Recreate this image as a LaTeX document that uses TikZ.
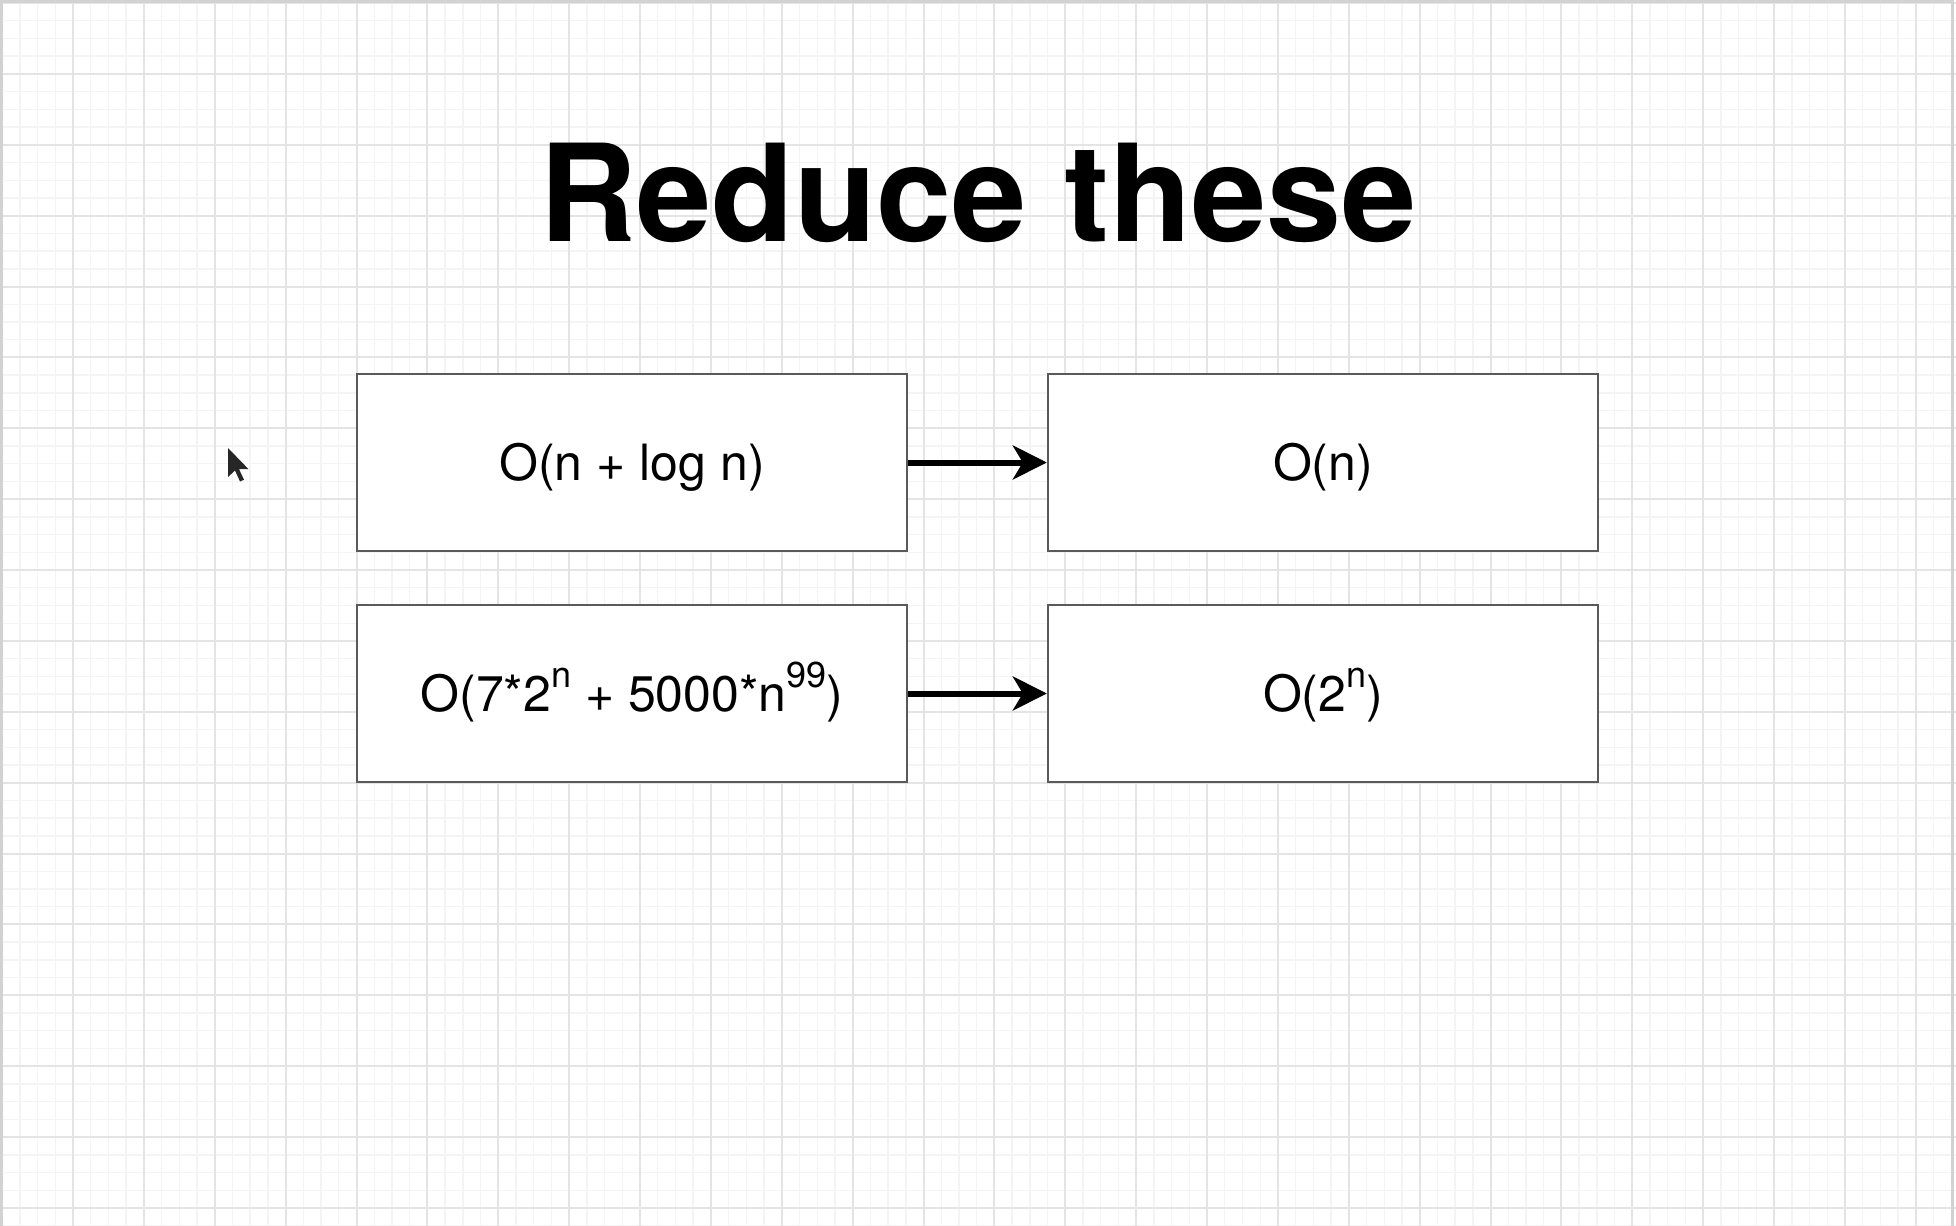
\documentclass[tikz,border=0pt]{standalone}
\usepackage{fontspec}
\setmainfont{TeX Gyre Heros}
\usepackage{xcolor}
\usetikzlibrary{arrows.meta, positioning}
\definecolor{boxgray}{HTML}{5A5A5A}
\definecolor{minorgrid}{HTML}{F4F4F4}
\definecolor{majorgrid}{HTML}{E4E4E4}
\definecolor{framegray}{HTML}{D2D2D2}
\newcommand\supx[1]{\raisebox{0.48em}{\fontsize{18}{18}\selectfont #1}}

\begin{document}
\begin{tikzpicture}[
  x=0.5pt, y=-0.5pt,
  box/.style={rectangle, draw=boxgray, line width=1.2pt, fill=white,
    minimum width=275pt, minimum height=88.5pt, inner sep=0pt,
    text height=22.5pt, text depth=4.5pt,
    font=\fontsize{25}{28}\selectfont},
  flow/.style={-{Stealth[length=17pt, width=17pt, inset=5pt]}, line width=3pt},
  minor/.style={draw=minorgrid, line width=0.7pt},
  major/.style={draw=majorgrid, line width=1pt},
  node distance=25.8pt and 69.3pt
]
% Canvas
\fill[white] (0,0) rectangle (1956,1226);
\useasboundingbox (0,0) rectangle (1956,1226);
\foreach \i in {0,...,110} \draw[minor] ({2.1+\i*17.72},0) -- ++(0,1226);
\foreach \j in {0,...,69} \draw[minor] (0,{3+\j*17.72}) -- ++(1956,0);
\foreach \i in {0,...,27} \draw[major] ({2.1+\i*70.88},0) -- ++(0,1226);
\foreach \j in {0,...,17} \draw[major] (0,{3+\j*70.88}) -- ++(1956,0);
\draw[framegray, line width=1.5pt] (1.5,1240) |- (1952,1.5) -- (1952,1240);

% Pointer
\fill[black!85] (228,448) -- ++(0,29) -- ++(7,-6.5) -- ++(5,11) -- ++(4,-1.8)
  -- ++(-5,-10.6) -- ++(9.5,0) -- cycle;

% Title
\node[anchor=base, font=\fontsize{67.5}{80}\selectfont\bfseries] (title)
  at (978,241) {Reduce these};

% Left column
\node[box] (nlog) at (632,462.5) {O(n + log n)};
\node[box, below=of nlog] (expo) {O(7*2\supx{n} + 5000*n\supx{99})};

% Right column
\node[box, right=of nlog] (lin) {O(n)};
\node[box, right=of expo] (two) {O(2\supx{n})};

% Reductions
\draw[flow] (nlog) -- (lin);
\draw[flow] (expo) -- (two);
\end{tikzpicture}
\end{document}
